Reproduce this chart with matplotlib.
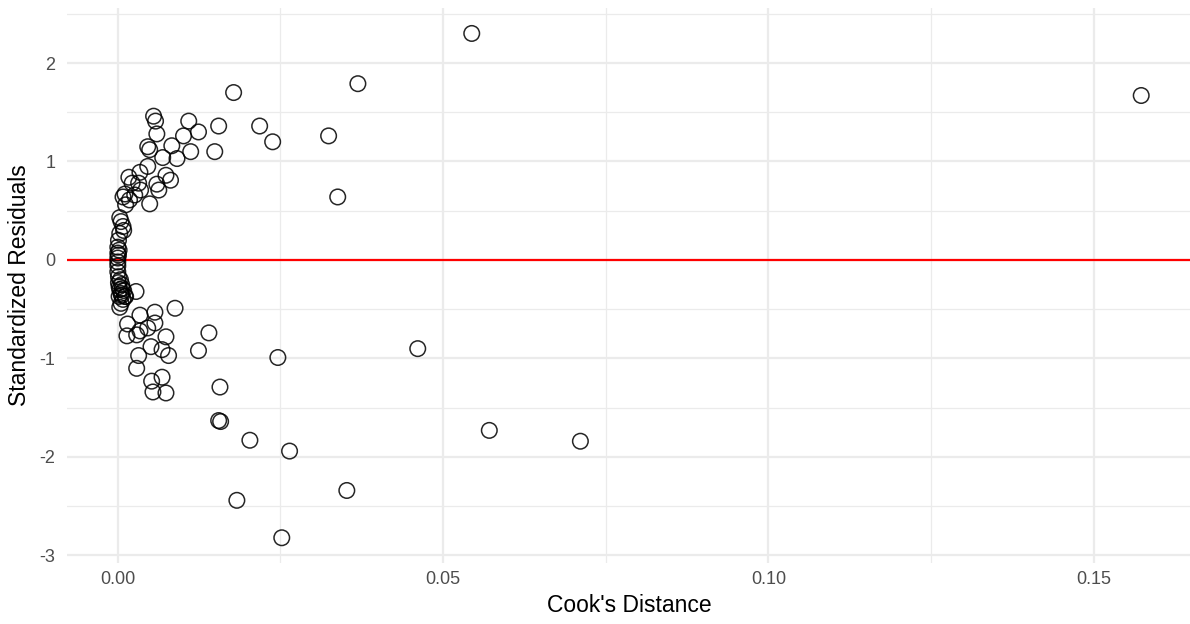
import matplotlib.pyplot as plt
from matplotlib.ticker import MultipleLocator

plt.rcParams['font.family'] = ['Liberation Sans', 'DejaVu Sans']

# Cook's distance and standardized residual for each observation
cooks_d = [
    0.0544, 0.1573, 0.0369, 0.0178, 0.0324, 0.0338, 0.0218, 0.0238, 0.0155, 0.0149,
    0.0124, 0.0109, 0.0101, 0.0112, 0.0083, 0.0091, 0.0055, 0.0058, 0.0060, 0.0046,
    0.0049, 0.0069, 0.0046, 0.0034, 0.0017, 0.0074, 0.0081, 0.0022, 0.0032, 0.0060,
    0.0063, 0.0035, 0.0011, 0.0008, 0.0026, 0.0018, 0.0049, 0.0012, 0.0003, 0.0008,
    0.0003, 0.0001, 0.0000, 0.0000, 0.0000, 0.0009, 0.0005, 0.0002, 0.0001, 0.0000,
    0.0000, 0.0000, 0.0001, 0.0001, 0.0002, 0.0003, 0.0005, 0.0006, 0.0009, 0.0011,
    0.0008, 0.0005, 0.0003, 0.0012, 0.0002, 0.0006, 0.0004, 0.0007,
    0.0028, 0.0057, 0.0088, 0.0034, 0.0015, 0.0057, 0.0046, 0.0034, 0.0014, 0.0029,
    0.0140, 0.0074, 0.0051, 0.0032, 0.0068, 0.0078, 0.0124, 0.0246, 0.0029, 0.0068,
    0.0052, 0.0054, 0.0074, 0.0157, 0.0461, 0.0571, 0.0711, 0.0155, 0.0158, 0.0203,
    0.0264, 0.0183, 0.0352, 0.0252,
]
std_resid = [
    2.30, 1.67, 1.79, 1.70, 1.26, 0.64, 1.36, 1.20, 1.36, 1.10,
    1.30, 1.41, 1.26, 1.10, 1.16, 1.03, 1.46, 1.41, 1.28, 1.15,
    1.12, 1.04, 0.95, 0.89, 0.84, 0.86, 0.81, 0.78, 0.78, 0.77,
    0.71, 0.71, 0.67, 0.64, 0.66, 0.61, 0.57, 0.56, 0.43, 0.34,
    0.27, 0.20, 0.13, 0.07, 0.02, 0.30, 0.39, 0.10, 0.05, -0.02,
    -0.06, -0.12, -0.17, -0.23, -0.27, -0.30, -0.34, -0.36, -0.31, -0.37,
    -0.40, -0.44, -0.48, -0.37, -0.37, -0.25, -0.20, -0.29,
    -0.32, -0.53, -0.49, -0.56, -0.65, -0.64, -0.69, -0.72, -0.77, -0.76,
    -0.74, -0.78, -0.88, -0.97, -0.91, -0.97, -0.92, -0.99, -1.10, -1.19,
    -1.23, -1.34, -1.35, -1.29, -0.90, -1.73, -1.84, -1.63, -1.64, -1.83,
    -1.94, -2.44, -2.34, -2.82,
]

grid_color = '#EBEBEB'
text_color = '#4D4D4D'

fig = plt.figure(figsize=(11.9, 6.24), dpi=100)
ax = fig.add_axes([0.056, 0.0978, 0.946, 0.889])

# ggplot-style 5% expansion around the data range
x_lo, x_hi = min(cooks_d), max(cooks_d)
y_lo, y_hi = min(std_resid), max(std_resid)
dx = (x_hi - x_lo) * 0.05
dy = (y_hi - y_lo) * 0.05
ax.set_xlim(x_lo - dx, x_hi + dx)
ax.set_ylim(y_lo - dy, y_hi + dy)

ax.xaxis.set_major_locator(MultipleLocator(0.05))
ax.xaxis.set_minor_locator(MultipleLocator(0.025))
ax.yaxis.set_major_locator(MultipleLocator(1))
ax.yaxis.set_minor_locator(MultipleLocator(0.5))
ax.grid(which='major', color=grid_color, linewidth=1.6)
ax.grid(which='minor', color=grid_color, linewidth=0.9)
ax.set_axisbelow(True)

for side in ax.spines.values():
    side.set_visible(False)
ax.tick_params(which='both', length=0, colors=text_color, labelsize=13)
ax.tick_params(axis='x', pad=6)
ax.tick_params(axis='y', pad=8)
ax.xaxis.set_major_formatter(lambda v, pos: f'{v:.2f}')
ax.yaxis.set_major_formatter(lambda v, pos: f'{v:.0f}')

ax.axhline(0, color='red', linewidth=1.6, zorder=2)
ax.scatter(cooks_d, std_resid, s=125, facecolors='none', edgecolors='black',
           linewidths=1.1, alpha=0.85, zorder=3)

ax.set_xlabel("Cook's Distance", fontsize=16.5, labelpad=4)
ax.set_ylabel('Standardized Residuals', fontsize=16.5, labelpad=6)

fig.savefig('out.png', dpi=100)
